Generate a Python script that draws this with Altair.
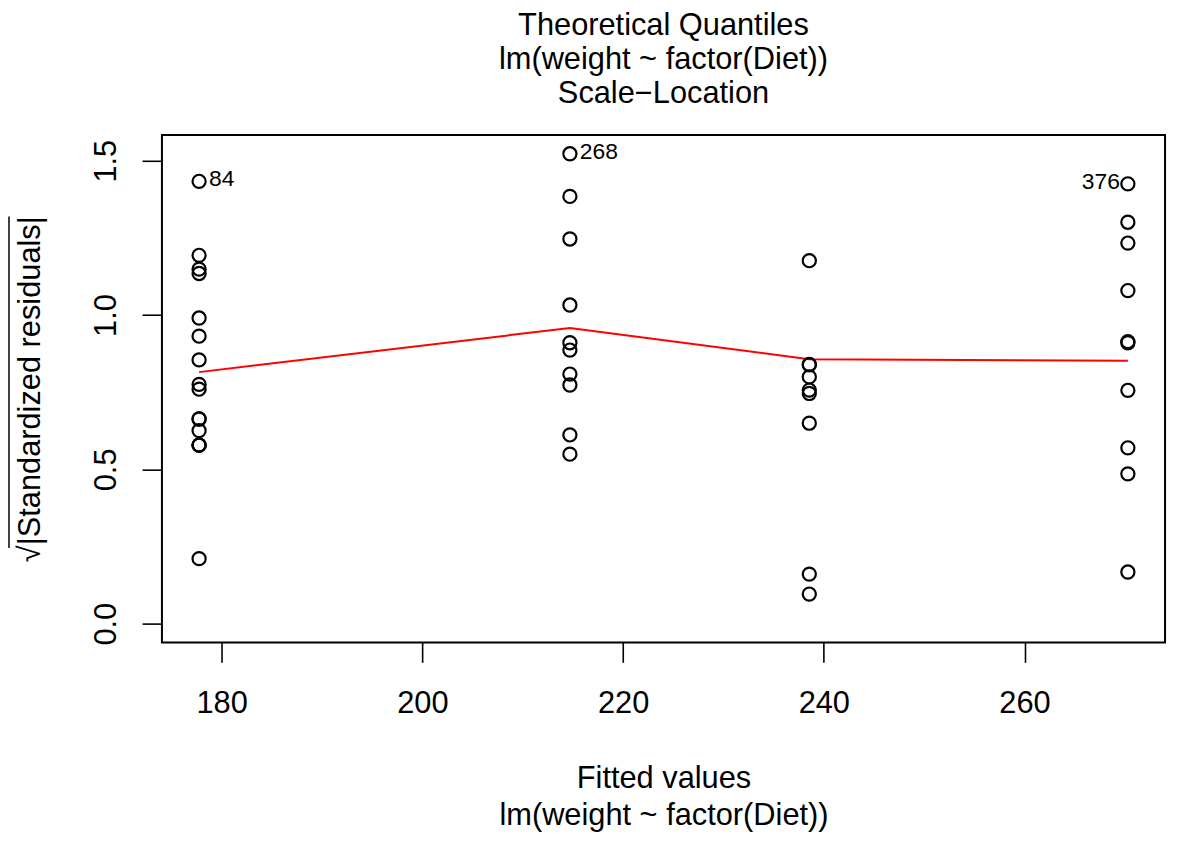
import altair as alt
import pandas as pd

FONT = "Liberation Sans"

# Fitted values (group means) for each diet group
group_fitted = [177.75, 214.7, 270.3, 238.5556]

# sqrt(|standardized residuals|) per group
diet1_vals = [0.6632, 0.7754, 0.6257, 0.5787, 0.8547, 0.5787, 1.4332, 1.1346,
              0.9315, 0.2107, 0.6632, 1.1487, 1.1935, 0.7597, 0.5787, 0.9903]
diet2_vals = [1.3842, 0.8865, 0.8087, 1.5225, 0.9103, 0.7733, 0.6115, 0.5491,
              1.2464, 1.0324]
diet3_vals = [0.4854, 0.7561, 1.4252, 1.0792, 1.3007, 0.9103, 1.2331, 0.5697,
              0.1674, 0.9139]
diet4_vals = [0.7569, 0.8388, 0.7995, 0.8400, 0.0960, 0.7459, 1.1762, 0.1606,
              0.6495]

# Smoother (red line)
smooth_x = [177.75, 214.7, 238.5556, 270.3]
smooth_y = [0.815, 0.958, 0.857, 0.852]

# Labelled extreme points
label_x = [177.75, 214.7, 270.3]
label_y = [1.4332, 1.5225, 1.4252]
label_text = ["84", "268", "376"]
label_side = ["right", "right", "left"]

x_ticks = [180, 200, 220, 240, 260]
y_ticks = [0.0, 0.5, 1.0, 1.5]

rows = []
for fv, vals in zip(group_fitted, [diet1_vals, diet2_vals, diet3_vals, diet4_vals]):
    for v in vals:
        rows.append({"fitted": fv, "val": v})
pts = pd.DataFrame(rows)
smooth = pd.DataFrame({"fitted": smooth_x, "val": smooth_y})
labels = pd.DataFrame({"fitted": label_x, "val": label_y, "txt": label_text, "side": label_side})

x_scale = alt.Scale(domain=[174.048, 274.002], nice=False, zero=False)
y_scale = alt.Scale(domain=[-0.0609, 1.5834], nice=False, zero=False)

x_axis = alt.Axis(
    values=x_ticks, format="d",
    title=["Fitted values", "lm(weight ~ factor(Diet))"],
    grid=False, domain=False, tickSize=20, tickWidth=1.6, tickColor="black",
    labelFont=FONT, labelFontSize=31, labelColor="black",
    labelBaseline="alphabetic", labelPadding=50.5, labelFlush=False, labelOverlap=False,
    titleFont=FONT, titleFontSize=31, titleFontWeight="normal", titleColor="black",
    titleBaseline="top", titleY=122, titleLineHeight=37.7,
)
y_axis = alt.Axis(
    values=y_ticks, format=".1f",
    title="√|Standardized residuals|",
    grid=False, domain=False, tickSize=20, tickWidth=1.6, tickColor="black",
    labelFont=FONT, labelFontSize=31, labelColor="black",
    labelAngle=270, labelAlign="center", labelBaseline="alphabetic",
    labelPadding=26.3, labelFlush=False, labelOverlap=False,
    titleFont=FONT, titleFontSize=31, titleFontWeight="normal", titleColor="black",
    titleAngle=270, titleAlign="center", titleBaseline="alphabetic",
    titleX=-123, titleY=255.5,
)

base_x = alt.X("fitted:Q", scale=x_scale, axis=x_axis)
base_y = alt.Y("val:Q", scale=y_scale, axis=y_axis)

points = alt.Chart(pts).mark_point(
    shape="circle", filled=False, size=175, strokeWidth=2.2, color="black", opacity=1
).encode(x=base_x, y=base_y)

line = alt.Chart(smooth).mark_line(color="red", strokeWidth=2).encode(
    x=alt.X("fitted:Q", scale=x_scale), y=alt.Y("val:Q", scale=y_scale)
)

lab_right = alt.Chart(labels).transform_filter(alt.datum.side == "right").mark_text(
    align="left", baseline="middle", dx=10, dy=-2, font=FONT, fontSize=23, color="black"
).encode(x=alt.X("fitted:Q", scale=x_scale), y=alt.Y("val:Q", scale=y_scale), text="txt:N")

lab_left = alt.Chart(labels).transform_filter(alt.datum.side == "left").mark_text(
    align="right", baseline="middle", dx=-8, dy=-2, font=FONT, fontSize=23, color="black"
).encode(x=alt.X("fitted:Q", scale=x_scale), y=alt.Y("val:Q", scale=y_scale), text="txt:N")

# overline of the square-root sign in the y-axis title
overline = alt.Chart(pd.DataFrame({"a": [0]})).mark_rule(
    color="black", strokeWidth=1.5
).encode(x=alt.value(-154), y=alt.value(82), y2=alt.value(416))

chart = alt.layer(line, points, lab_right, lab_left, overline).properties(
    width=1010, height=511,
    autosize=alt.AutoSizeParams(type="none"),
    padding={"left": 155, "top": 125, "right": 4, "bottom": 190},
    background="white",
    title=alt.TitleParams(
        text=["Theoretical Quantiles", "lm(weight ~ factor(Diet))", "Scale−Location"],
        font=FONT, fontSize=31, fontWeight="normal", color="black",
        lineHeight=34.2, anchor="middle", offset=25,
    ),
).configure_view(stroke="black", strokeWidth=2)

chart.save("out.html", embed_options={"renderer": "svg", "actions": False})
